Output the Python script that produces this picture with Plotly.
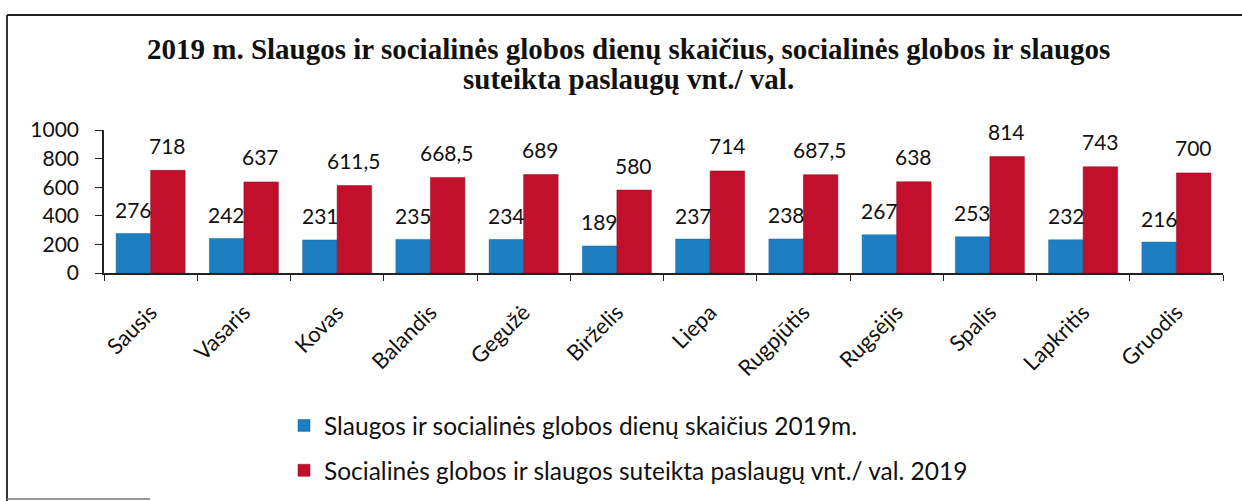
import plotly.graph_objects as go

months = ["Sausis", "Vasaris", "Kovas", "Balandis", "Gegužė", "Birželis",
          "Liepa", "Rugpjūtis", "Rugsėjis", "Spalis", "Lapkritis", "Gruodis"]
dienos = [276, 242, 231, 235, 234, 189, 237, 238, 267, 253, 232, 216]
paslaugos = [718, 637, 611.5, 668.5, 689, 580, 714, 687.5, 638, 814, 743, 700]
dienos_lbl = ["276", "242", "231", "235", "234", "189", "237", "238", "267", "253", "232", "216"]
paslaugos_lbl = ["718", "637", "611,5", "668,5", "689", "580", "714", "687,5", "638", "814", "743", "700"]
name1 = "Slaugos ir socialinės globos dienų skaičius 2019m."
name2 = "Socialinės globos ir slaugos suteikta paslaugų vnt./ val. 2019"
title1 = "2019 m. Slaugos ir socialinės globos dienų skaičius, socialinės globos ir slaugos"
title2 = "suteikta paslaugų vnt./ val."

W, H = 1242, 501
L, R, T, B = 104, 19, 130, 228
PW, PH = W - L - R, H - T - B

def px(x):
    return (x - L) / PW

def py(y):
    return (H - B - y) / PH

FONT = "Lato"
BLUE = "#1d7fc2"
RED = "#c2102c"

fig = go.Figure()
fig.add_trace(go.Bar(x=months, y=dienos, name=name1, marker_color=BLUE, legendgroup="a",
                     marker_line=dict(color="#16679e", width=0.5)))
fig.add_trace(go.Bar(x=months, y=paslaugos, name=name2, marker_color=RED, legendgroup="b",
                     marker_line=dict(color="#8e0a1f", width=0.5)))

annots = []
for m, v, t in zip(months, dienos, dienos_lbl):
    annots.append(dict(x=m, y=v, text=t, showarrow=False, xshift=-17, yshift=24,
                       yanchor="middle", font=dict(family=FONT, size=21, color="#111")))
for m, v, t in zip(months, paslaugos, paslaugos_lbl):
    annots.append(dict(x=m, y=v, text=t, showarrow=False, xshift=17, yshift=25,
                       yanchor="middle", font=dict(family=FONT, size=21, color="#111")))
TFONT = dict(family="Liberation Serif", size=29, color="#111", weight="bold")
annots.append(dict(xref="paper", yref="paper", x=px(628), y=py(49), text=title1,
                   showarrow=False, xanchor="center", yanchor="middle", font=TFONT))
annots.append(dict(xref="paper", yref="paper", x=px(628), y=py(79), text=title2,
                   showarrow=False, xanchor="center", yanchor="middle", font=TFONT))

shapes = [
    dict(type="line", xref="paper", yref="paper", x0=px(7), x1=px(7), y0=py(15), y1=py(501),
         line=dict(color="#333", width=2)),
    dict(type="line", xref="paper", yref="paper", x0=px(7), x1=px(1242), y0=py(15), y1=py(15),
         line=dict(color="#222", width=2)),
    dict(type="line", xref="paper", yref="paper", x0=px(7), x1=px(150), y0=py(499), y1=py(499),
         line=dict(color="#777", width=1.5)),
]

fig.update_layout(
    width=W, height=H,
    margin=dict(l=L, r=R, t=T, b=B, autoexpand=False),
    paper_bgcolor="white", plot_bgcolor="white",
    barmode="group", bargap=0.26, bargroupgap=0,
    font=dict(family=FONT, size=20, color="#111"),
    xaxis=dict(showline=True, linecolor="#222", linewidth=1.5, ticks="outside",
               tickson="boundaries", ticklen=6, tickcolor="#222", tickangle=-45,
               tickfont=dict(family=FONT, size=22, color="#111"), showgrid=False,
               ticklabelstandoff=16, automargin=False),
    yaxis=dict(range=[0, 1000], tickvals=[0, 200, 400, 600, 800, 1000], showline=True,
               linecolor="#222", linewidth=1.5, ticks="outside", ticklen=7, tickcolor="#222",
               tickfont=dict(family=FONT, size=21, color="#111"), showgrid=False,
               zeroline=False, ticklabelstandoff=12, automargin=False),
    showlegend=True,
    legend=dict(xref="container", yref="container", x=284 / W, y=1 - 403 / H,
                xanchor="left", yanchor="top", orientation="v",
                tracegroupgap=10, traceorder="grouped",
                font=dict(family=FONT, size=24.5, color="#111"), bgcolor="rgba(0,0,0,0)"),
    annotations=annots,
    shapes=shapes,
)

fig.write_html("out.html", config={"displayModeBar": False},
               post_script="document.body.style.margin='0';")
